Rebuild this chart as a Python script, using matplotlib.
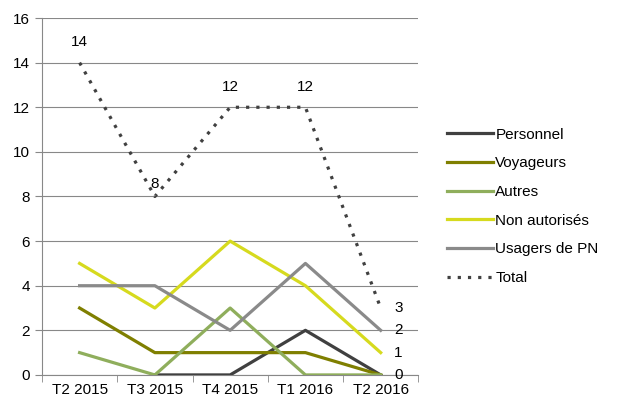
import numpy as np
import matplotlib
matplotlib.use("Agg")
import matplotlib.pyplot as plt

plt.rcParams['font.family'] = ['Liberation Sans', 'DejaVu Sans']

categories = ["T2 2015", "T3 2015", "T4 2015", "T1 2016", "T2 2016"]
personnel = [np.nan, 0, 0, 2, 0]
voyageurs = [3, 1, 1, 1, 0]
autres = [1, 0, 3, 0, 0]
non_autorises = [5, 3, 6, 4, 1]
usagers_pn = [4, 4, 2, 5, 2]
total = [14, 8, 12, 12, 3]

fig = plt.figure(figsize=(6.17, 4.01), dpi=100)
ax = fig.add_axes([0.068, 0.065, 0.61, 0.89])

x = np.arange(len(categories))
lw = 2.3
ax.plot(x, personnel, color="#404040", lw=lw, label="Personnel", zorder=3)
ax.plot(x, voyageurs, color="#7f7f00", lw=lw, label="Voyageurs", zorder=3)
ax.plot(x, autres, color="#8fae5c", lw=lw, label="Autres", zorder=3)
ax.plot(x, non_autorises, color="#d6da1e", lw=lw, label="Non autorisés", zorder=3)
ax.plot(x, usagers_pn, color="#8a8a8a", lw=lw, label="Usagers de PN", zorder=3)
ax.plot(x, total, color="#404040", lw=2.3, ls=(0, (1, 2.2)), label="Total", zorder=3)

# etiquettes du total
for i, v in enumerate(total[:-1]):
    if i == 1:
        ax.text(i, v + 0.25, str(v), ha="center", va="bottom", fontsize=11)
    else:
        ax.text(i, v + 0.6, str(v), ha="center", va="bottom", fontsize=11)
last = len(categories) - 1
for v in [total[-1], usagers_pn[-1], non_autorises[-1], voyageurs[-1]]:
    ax.text(last + 0.18, v, str(v), ha="left", va="center", fontsize=11)

ax.set_xlim(-0.5, 4.5)
ax.set_ylim(0, 16)
ax.set_yticks(range(0, 17, 2))
ax.set_xticks(x)
ax.set_xticklabels(categories)
ax.set_xticks(np.arange(-0.5, 5, 1), minor=True)
ax.tick_params(axis="x", which="major", length=0, labelsize=11, pad=6)
ax.tick_params(axis="x", which="minor", length=5, color="#888888")
ax.tick_params(axis="y", length=5, color="#888888", labelsize=11)
ax.grid(axis="y", color="#888888", lw=0.8)
for s in ["top", "right"]:
    ax.spines[s].set_visible(False)
for s in ["left", "bottom"]:
    ax.spines[s].set_color("#888888")

ax.legend(loc="center left", bbox_to_anchor=(1.04, 0.472), frameon=False,
          fontsize=11, handlelength=3.0, handletextpad=0.15, labelspacing=0.96)

fig.savefig("out.png", dpi=100)
